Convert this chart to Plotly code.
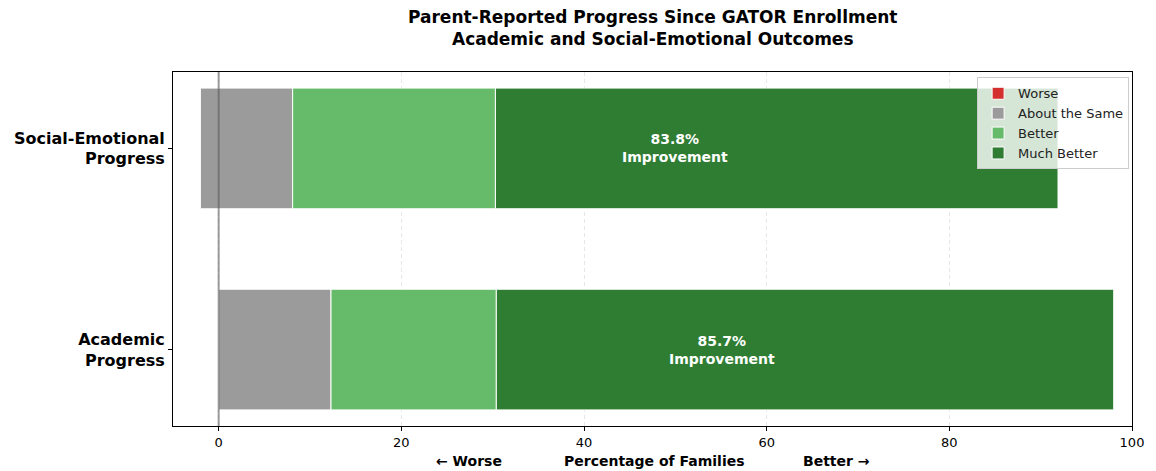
import plotly.graph_objects as go

# Survey results (percent of families)
domains = ["Academic<br>Progress", "Social-Emotional<br>Progress"]
worse = [0.0, 2.0]
about_same = [12.3, 10.1]
better = [18.1, 22.2]
much_better = [67.6, 61.6]
improvement = [85.7, 83.8]

colors = {
    "Worse": "#d32f2f",
    "About the Same": "#9b9b9b",
    "Better": "#66bb6a",
    "Much Better": "#2e7d32",
}

ypos = list(range(len(domains)))
bar_w = 0.6
edge = dict(color="white", width=1)

start = [-w for w in worse]
same_end = [s + a for s, a in zip(start, about_same)]
better_end = [s + b for s, b in zip(same_end, better)]

fig = go.Figure()
fig.add_trace(go.Bar(name="Worse", y=ypos, x=worse, base=start, orientation="h",
                     width=bar_w, marker=dict(color=colors["Worse"], line=edge)))
fig.add_trace(go.Bar(name="About the Same", y=ypos, x=about_same, base=start, orientation="h",
                     width=bar_w, marker=dict(color=colors["About the Same"], line=edge)))
fig.add_trace(go.Bar(name="Better", y=ypos, x=better, base=same_end, orientation="h",
                     width=bar_w, marker=dict(color=colors["Better"], line=edge)))
fig.add_trace(go.Bar(name="Much Better", y=ypos, x=much_better, base=better_end, orientation="h",
                     width=bar_w, marker=dict(color=colors["Much Better"], line=edge)))

# Improvement labels centred over the Better + Much Better span
for y, s, imp in zip(ypos, same_end, improvement):
    fig.add_annotation(x=s + imp / 2, y=y, xref="x", yref="y",
                       text=f"<b>{imp:.1f}%<br>Improvement</b>", showarrow=False,
                       font=dict(color="white", size=14, family="DejaVu Sans"))

# Reference line at zero
fig.add_shape(type="line", x0=0, x1=0, xref="x", y0=0, y1=1, yref="paper",
              line=dict(color="rgba(90,90,90,0.6)", width=2), layer="above")

# Two-line title
fig.add_annotation(x=0.5, y=1.06, xref="paper", yref="paper", xanchor="center", yanchor="bottom",
                   text="<b>Parent-Reported Progress Since GATOR Enrollment<br>Academic and Social-Emotional Outcomes</b>",
                   showarrow=False, font=dict(size=17, family="DejaVu Sans", color="black"))

# Axis caption with direction hints
cap_font = dict(size=14, family="DejaVu Sans", color="black")
for xp, txt in [(0.309, "<b>← Worse</b>"), (0.5016, "<b>Percentage of Families</b>"),
                (0.692, "<b>Better →</b>")]:
    fig.add_annotation(x=xp, y=-0.07, xref="paper", yref="paper", xanchor="center", yanchor="top",
                       text=txt, showarrow=False, font=cap_font)

fig.update_layout(
    width=1156, height=471,
    barmode="overlay",
    plot_bgcolor="white", paper_bgcolor="white",
    margin=dict(l=173, r=20, t=72, b=45),
    font=dict(family="DejaVu Sans", color="black", size=12),
    legend=dict(x=0.997, xanchor="right", y=0.985, yanchor="top",
                bgcolor="rgba(255,255,255,0.8)", bordercolor="#cccccc", borderwidth=1,
                font=dict(size=13, family="DejaVu Sans", color="#222"),
                traceorder="normal", itemwidth=30),
    showlegend=True,
)
fig.update_xaxes(range=[-5, 100], tickvals=[0, 20, 40, 60, 80, 100],
                 showgrid=True, gridcolor="rgba(215,215,215,0.6)", griddash="4px,3px", gridwidth=1,
                 zeroline=False, showline=True, mirror=True, linecolor="black", linewidth=1,
                 ticks="outside", ticklen=4, tickcolor="black",
                 tickfont=dict(size=13, family="DejaVu Sans"))
fig.update_yaxes(range=[-0.38, 1.38], tickvals=ypos, ticktext=[f"<b>{d}</b>" for d in domains],
                 showgrid=False, zeroline=False, showline=True, mirror=True,
                 linecolor="black", linewidth=1, ticks="outside", ticklen=4, tickcolor="black",
                 tickfont=dict(size=16, family="DejaVu Sans"))

fig.write_html("out.html")
